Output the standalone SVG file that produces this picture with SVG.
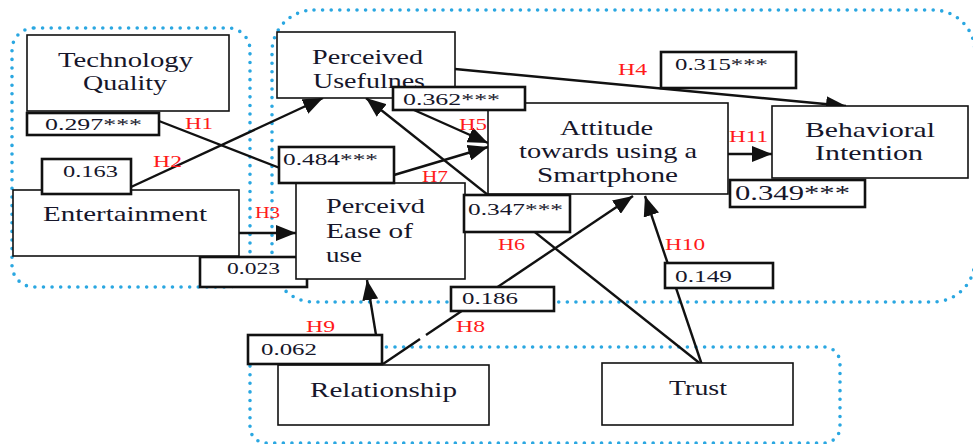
<svg xmlns="http://www.w3.org/2000/svg" width="973" height="444" viewBox="0 0 973 444">
<style>
.region{fill:none;stroke:#2aa7e1;stroke-width:3.6;stroke-dasharray:0 8.6;stroke-linecap:round}
.node rect{fill:#fff;stroke:#111;stroke-width:1.6}
.w rect{fill:#fff;stroke:#111;stroke-width:2.6}
text{font-family:"Liberation Serif","Times New Roman",serif;fill:#16162a}
.nt{font-size:21px}
.vt{font-size:17.5px}
.h{font-size:17px;fill:#ff1a1a}
.c line{stroke:#111;stroke-width:2.4}
</style>
<defs>
<marker id="ah" markerUnits="userSpaceOnUse" markerWidth="22" markerHeight="16" refX="20" refY="8" orient="auto">
<path d="M0,0 L20,8 L0,16 z" fill="#111"/>
</marker>
</defs>
<rect width="973" height="444" fill="#fff"/>
<g id="regions">
<rect class="region" x="12" y="28" width="238" height="259" rx="22"/>
<rect class="region" x="272" y="10" width="703" height="292" rx="42"/>
<rect class="region" x="250" y="347" width="590" height="96" rx="16"/>
</g>
<g id="connectors" class="c">
<line x1="159" y1="121" x2="285" y2="170"/>
<line x1="131" y1="187" x2="323" y2="98" marker-end="url(#ah)"/>
<line x1="239" y1="233" x2="296" y2="233" marker-end="url(#ah)"/>
<line x1="455" y1="69" x2="846" y2="106" marker-end="url(#ah)"/>
<line x1="405" y1="106" x2="488" y2="143" marker-end="url(#ah)"/>
<line x1="394" y1="175" x2="488" y2="147" marker-end="url(#ah)"/>
<line x1="702" y1="365" x2="366" y2="98" marker-end="url(#ah)"/>
<line x1="383" y1="364" x2="420" y2="339"/>
<line x1="426" y1="335" x2="633" y2="196" marker-end="url(#ah)"/>
<line x1="376" y1="335" x2="367" y2="280" marker-end="url(#ah)"/>
<line x1="702" y1="365" x2="645" y2="196" marker-end="url(#ah)"/>
<line x1="728" y1="154" x2="772" y2="154" marker-end="url(#ah)"/>
</g>
<g id="w023" class="w"><rect x="200" y="257" width="107" height="30"/><text class="vt" x="227" y="274" textLength="53" lengthAdjust="spacingAndGlyphs">0.023</text></g>
<g id="tq" class="node"><rect x="27" y="35" width="202" height="76"/><text class="nt" x="58" y="67" textLength="135" lengthAdjust="spacingAndGlyphs">Technology</text><text class="nt" x="83" y="90" textLength="84" lengthAdjust="spacingAndGlyphs">Quality</text></g>
<g id="ent" class="node"><rect x="13" y="190" width="226" height="66"/><text class="nt" x="43" y="221" textLength="164" lengthAdjust="spacingAndGlyphs">Entertainment</text></g>
<g id="pu" class="node"><rect x="277" y="32" width="178" height="66"/><text class="nt" x="312" y="64" textLength="111" lengthAdjust="spacingAndGlyphs">Perceived</text><text class="nt" x="313" y="88" textLength="112" lengthAdjust="spacingAndGlyphs">Usefulnes</text></g>
<g id="peou" class="node"><rect x="296" y="183" width="169" height="96"/><text class="nt" x="326" y="213" textLength="99" lengthAdjust="spacingAndGlyphs">Perceivd</text><text class="nt" x="326" y="238" textLength="87" lengthAdjust="spacingAndGlyphs">Ease of</text><text class="nt" x="326" y="262" textLength="36" lengthAdjust="spacingAndGlyphs">use</text></g>
<g id="att" class="node"><rect x="488" y="103" width="240" height="91"/><text class="nt" x="560" y="135" textLength="93" lengthAdjust="spacingAndGlyphs">Attitude</text><text class="nt" x="519" y="158" textLength="178" lengthAdjust="spacingAndGlyphs">towards using a</text><text class="nt" x="537" y="182" textLength="141" lengthAdjust="spacingAndGlyphs">Smartphone</text></g>
<g id="bi" class="node"><rect x="772" y="106" width="196" height="72"/><text class="nt" x="805" y="137" textLength="130" lengthAdjust="spacingAndGlyphs">Behavioral</text><text class="nt" x="815" y="160" textLength="108" lengthAdjust="spacingAndGlyphs">Intention</text></g>
<g id="rel" class="node"><rect x="278" y="365" width="211" height="60"/><text class="nt" x="310" y="397" textLength="147" lengthAdjust="spacingAndGlyphs">Relationship</text></g>
<g id="trust" class="node"><rect x="602" y="363" width="191" height="62"/><text class="nt" x="669" y="395" textLength="58" lengthAdjust="spacingAndGlyphs">Trust</text></g>
<g id="w297" class="w"><rect x="27" y="113" width="132" height="22"/><text class="vt" x="45" y="130" textLength="97" lengthAdjust="spacingAndGlyphs">0.297***</text></g>
<g id="w163" class="w"><rect x="42" y="159" width="89" height="35"/><text class="vt" x="63" y="177" textLength="55" lengthAdjust="spacingAndGlyphs">0.163</text></g>
<g id="w362" class="w"><rect x="393" y="87" width="132" height="23"/><text class="vt" x="403" y="105" textLength="97" lengthAdjust="spacingAndGlyphs">0.362***</text></g>
<g id="w484" class="w"><rect x="279" y="147" width="115" height="36"/><text class="vt" x="283" y="165" textLength="95" lengthAdjust="spacingAndGlyphs">0.484***</text></g>
<g id="w347" class="w"><rect x="464" y="195" width="106" height="37"/><text class="vt" x="468" y="215" textLength="95" lengthAdjust="spacingAndGlyphs">0.347***</text></g>
<g id="w315" class="w"><rect x="661" y="52" width="135" height="36"/><text class="vt" x="675" y="70" textLength="93" lengthAdjust="spacingAndGlyphs">0.315***</text></g>
<g id="w349" class="w"><rect x="730" y="180" width="135" height="27"/><text class="vt" x="735" y="200" textLength="115" lengthAdjust="spacingAndGlyphs" style="font-size:22px">0.349***</text></g>
<g id="w149" class="w"><rect x="665" y="263" width="108" height="25"/><text class="vt" x="675" y="282" textLength="57" lengthAdjust="spacingAndGlyphs">0.149</text></g>
<g id="w186" class="w"><rect x="451" y="287" width="103" height="24"/><text class="vt" x="462" y="304" textLength="56" lengthAdjust="spacingAndGlyphs">0.186</text></g>
<g id="w062" class="w"><rect x="248" y="335" width="134" height="29"/><text class="vt" x="261" y="355" textLength="56" lengthAdjust="spacingAndGlyphs">0.062</text></g>
<g id="hyp">
<text class="h" x="185" y="129" textLength="28" lengthAdjust="spacingAndGlyphs">H1</text>
<text class="h" x="153" y="167" textLength="29" lengthAdjust="spacingAndGlyphs">H2</text>
<text class="h" x="255" y="218" textLength="25" lengthAdjust="spacingAndGlyphs">H3</text>
<text class="h" x="618" y="75" textLength="29" lengthAdjust="spacingAndGlyphs">H4</text>
<text class="h" x="459" y="130" textLength="28" lengthAdjust="spacingAndGlyphs">H5</text>
<text class="h" x="498" y="250" textLength="27" lengthAdjust="spacingAndGlyphs">H6</text>
<text class="h" x="422" y="182" textLength="26" lengthAdjust="spacingAndGlyphs">H7</text>
<text class="h" x="456" y="332" textLength="29" lengthAdjust="spacingAndGlyphs">H8</text>
<text class="h" x="306" y="332" textLength="29" lengthAdjust="spacingAndGlyphs">H9</text>
<text class="h" x="665" y="250" textLength="40" lengthAdjust="spacingAndGlyphs">H10</text>
<text class="h" x="729" y="142" textLength="39" lengthAdjust="spacingAndGlyphs">H11</text>
</g>
</svg>
